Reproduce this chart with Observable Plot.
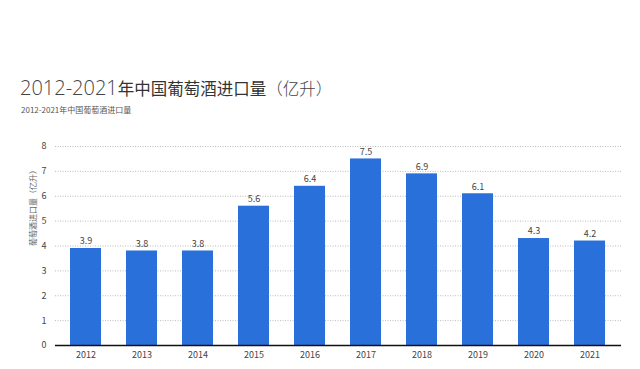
<!DOCTYPE html>
<html><head><meta charset="utf-8">
<script src="https://cdn.jsdelivr.net/npm/d3@7"></script>
<script src="https://cdn.jsdelivr.net/npm/@observablehq/plot@0.6"></script>
<style>
body{margin:0;background:#fff;font-family:"Noto Sans CJK SC","Noto Sans",sans-serif;}
#wrap{position:relative;width:640px;height:369px;overflow:hidden;}
#title{position:absolute;left:20px;top:74px;font-size:16.5px;color:#333;white-space:nowrap;font-weight:400;}
#title .n{font-family:"Open Sans",sans-serif;font-weight:300;font-size:20px;color:#444;}
#title .p{font-weight:300;color:#444;}
#sub{position:absolute;left:21px;top:104px;font-size:8px;color:#555;white-space:nowrap;}
#chart{position:absolute;left:0;top:130px;}
</style></head>
<body><div id="wrap"><div id="title"><span class="n">2012-2021</span>年中国葡萄酒进口量<span class="p">（亿升）</span></div><div id="sub">2012-2021年中国葡萄酒进口量</div><div id="chart"></div></div>
<script>
const years = ["2012","2013","2014","2015","2016","2017","2018","2019","2020","2021"];
const values = [3.9,3.8,3.8,5.6,6.4,7.5,6.9,6.1,4.3,4.2];
const yTicks = [0,1,2,3,4,5,6,7,8];
const data = years.map((y,i)=>({year:y,value:values[i]}));
const chart = Plot.plot({
  width:640, height:240,
  marginLeft:55, marginRight:19, marginTop:16, marginBottom:25,
  style:{fontFamily:"'Noto Sans CJK SC','Noto Sans',sans-serif",fontSize:"9px",color:"#444",background:"#fff"},
  x:{domain:years,paddingInner:0.44,paddingOuter:0.21,label:null,tickSize:0,tickPadding:6},
  y:{domain:[0,8],ticks:yTicks,label:null,tickSize:0,tickPadding:9},
  marks:[
    Plot.gridY(yTicks.filter(d=>d>0),{stroke:"#bbb",strokeOpacity:1,strokeDasharray:"1,1.5"}),
    Plot.barY(data,{x:"year",y:"value",fill:"#2a70da"}),
    Plot.text(data,{x:"year",y:"value",text:d=>d.value.toFixed(1),dy:-7,fill:"#444",fontSize:9}),
    Plot.ruleY([0],{stroke:"#111",strokeWidth:1.5}),
    Plot.axisX({tickSize:0,tickPadding:6,label:null,fill:"#444"}),
    Plot.axisY({ticks:yTicks,tickSize:0,tickPadding:9,label:null,fill:"#444"}),
    Plot.text(["葡萄酒进口量（亿升）"],{frameAnchor:"left",dx:-22,rotate:-90,fontSize:8,fill:"#666"})
  ]
});
document.getElementById("chart").appendChild(chart);
</script></body></html>
